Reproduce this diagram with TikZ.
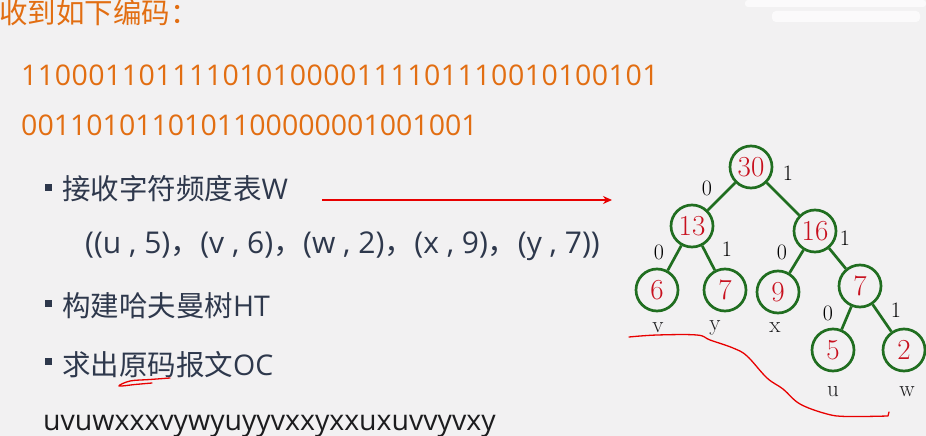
\documentclass[tikz,border=0pt]{standalone}
\usepackage{fontspec}
\newfontfamily\sans{Open Sans}
\newfontfamily\cjk{Noto Sans CJK SC}
\usetikzlibrary{arrows.meta}
\definecolor{bg}{RGB}{242,241,242}
\definecolor{orng}{RGB}{226,110,18}
\definecolor{slate}{RGB}{46,56,76}
\definecolor{ink}{RGB}{28,28,30}
\definecolor{treegreen}{RGB}{32,110,32}
\definecolor{numred}{RGB}{200,16,30}
\definecolor{penred}{RGB}{232,0,0}
\tikzset{
  txt/.style={anchor=base west, inner sep=0pt, font=\sans\fontsize{28.5}{34}\selectfont},
  orangetxt/.style={txt, text=orng},
  slatetxt/.style={txt, text=slate},
  bulletsq/.style={fill=slate, minimum size=7pt, inner sep=0pt, draw=none},
  tnode/.style={circle, draw=treegreen, line width=2.7pt, minimum size=42pt, inner sep=0pt,
                text=numred, font=\fontsize{29}{30}\selectfont},
  tedge/.style={draw=treegreen, line width=2.7pt},
  blabel/.style={inner sep=0pt, text=black, font=\fontsize{22}{24}\selectfont},
  leaflabel/.style={inner sep=0pt, text=ink, font=\fontsize{23}{24}\selectfont},
  pen/.style={draw=penred, line width=1.3pt, line cap=round, line join=round}
}
\begin{document}
\begin{tikzpicture}[x=1pt,y=-1pt]
\fill[bg] (0,0) rectangle (926,436);
\useasboundingbox (0,0) rectangle (926,436);
% faint white artefacts at top right
\fill[white, opacity=0.7, rounded corners=3pt] (745,0) rectangle (926,7);
\fill[white, opacity=0.7, rounded corners=4pt] (772,11) rectangle (920,22);

% title and code
\node[orangetxt] (title) at (-1,24) {\cjk 收到如下编码：};
\node[orangetxt] (code1) at (21,85) {\addfontfeature{LetterSpace=1.7}11000110111101010000111101110010100101};
\node[orangetxt] (code2) at (21,135) {0011010110101100000001001001};

% bullets
\node[bulletsq] (sq1) at (48.5,187.5) {};
\node[slatetxt] (b1) at (62,199) {{\cjk 接收字符频度表}W};
\node[slatetxt, font=\sans\fontsize{30}{34}\selectfont] (w) at (85,253) {((u , 5){\cjk ，}(v , 6){\cjk ，}(w , 2){\cjk ，}(x , 9){\cjk ，}(y , 7))};
\node[bulletsq] (sq2) at (48.5,303.5) {};
\node[slatetxt] (b2) at (62,316) {{\cjk 构建哈夫曼树}HT};
\node[bulletsq] (sq3) at (48.5,361.5) {};
\node[slatetxt] (b3) at (62,375) {{\cjk 求出原码报文}OC};
\node[txt, text=ink] (oc) at (43,430) {uvuwxxxvywyuyyvxxyxxuxuvvyvxy};

% red arrow
\coordinate (as) at (322,200);
\coordinate (ae) at (612,200);
\draw[penred, line width=2.7pt, -{Stealth[length=9pt,width=8pt]}] (as) -- (ae);

% tree
\node[tnode] (n30) at (751,167) {30};
\node[tnode] (n13) at (692,226) {13};
\node[tnode] (n16) at (815,231) {16};
\node[tnode] (n6)  at (657,290) {6};
\node[tnode] (n7a) at (725,290) {7};
\node[tnode] (n9)  at (778,292) {9};
\node[tnode] (n7b) at (860,286) {7};
\node[tnode] (n5)  at (833,350) {5};
\node[tnode] (n2)  at (904,350) {2};
\draw[tedge] (n30) -- (n13);
\draw[tedge] (n30) -- (n16);
\draw[tedge] (n13) -- (n6);
\draw[tedge] (n13) -- (n7a);
\draw[tedge] (n16) -- (n9);
\draw[tedge] (n16) -- (n7b);
\draw[tedge] (n7b) -- (n5);
\draw[tedge] (n7b) -- (n2);

\node[blabel] (l1) at (707,188) {0};
\node[blabel] (l2) at (788,173) {1};
\node[blabel] (l3) at (659,252) {0};
\node[blabel] (l4) at (727,249) {1};
\node[blabel] (l5) at (782,252) {0};
\node[blabel] (l6) at (845,238) {1};
\node[blabel] (l7) at (828,313) {0};
\node[blabel] (l8) at (896,310) {1};

\node[leaflabel] (cv) at (658,328) {v};
\node[leaflabel] (cy) at (715,328) {y};
\node[leaflabel] (cx) at (775,328) {x};
\node[leaflabel] (cu) at (833,392) {u};
\node[leaflabel] (cw) at (907,392) {w};

% freehand red marks
\draw[pen] plot[smooth, tension=0.6] coordinates {(629,337) (657,335) (697,335) (710,340) (733,348) (747,356) (767,378) (783,389) (800,404) (827,414) (847,416.5) (888,416)} -- (889,412);
\draw[pen] plot[smooth, tension=0.6] coordinates {(170,378) (150,379.5) (130,381) (119,386) (135,384.5) (152,383)};
\end{tikzpicture}
\end{document}
